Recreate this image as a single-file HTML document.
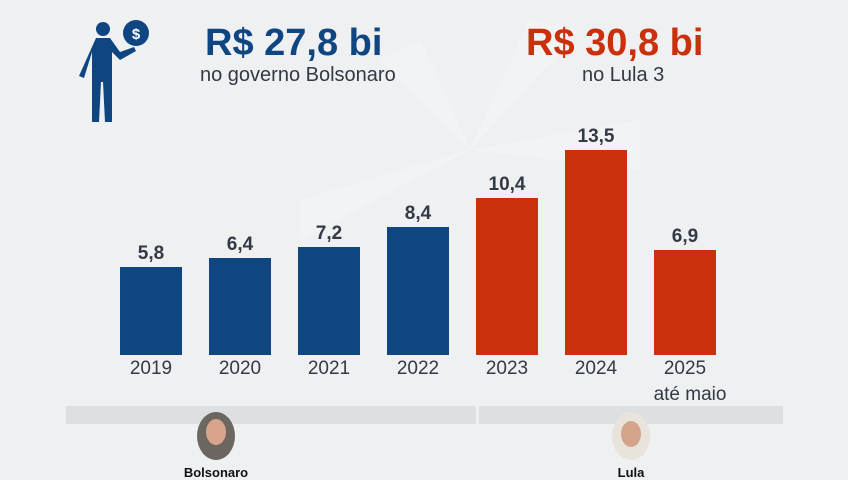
<!DOCTYPE html>
<html><head><meta charset="utf-8"><style>
body{margin:0;width:848px;height:477px;overflow:hidden;background:#eef0f2;font-family:"Liberation Sans",sans-serif;position:relative}
.a{position:absolute}
.bar{position:absolute;width:62px;bottom:122px}
.b{background:#0f4682}.r{background:#c9300b}
.v{position:absolute;width:62px;text-align:center;font-weight:bold;font-size:19px;color:#333a44}
.y{position:absolute;width:80px;text-align:center;font-size:19px;color:#333a44;top:358px}
</style></head><body>
<svg class="a" style="left:0;top:0" width="848" height="477">
<g fill="#f2f3f5">
<polygon points="470,150 380,60 420,40"/><polygon points="470,150 530,20 580,30"/><polygon points="470,150 640,120 640,170"/><polygon points="470,150 300,200 300,240"/>
</g>
<g fill="#0f4682">
<circle cx="103" cy="29" r="7"/>
<path d="M96 38 h14 l10 14 l14 -5 l2 4 l-16 9 l-8 -8 v30 l0 40 h-7 l-2 -40 h-2 l-2 40 h-7 v-70 l-8 26 l-5 -2 z"/>
<circle cx="136" cy="33" r="13"/>
</g>
<text x="136" y="39" fill="#fff" font-size="15" font-weight="bold" text-anchor="middle" font-family="Liberation Sans">$</text>
<rect x="66" y="406" width="410" height="18" fill="#dde0e3"/>
<rect x="479" y="406" width="304" height="18" fill="#dde0e3"/>
<ellipse cx="216" cy="436" rx="19" ry="24" fill="#6b6660"/>
<ellipse cx="216" cy="432" rx="10" ry="13" fill="#d8a58c"/>
<ellipse cx="631" cy="436" rx="19" ry="24" fill="#e8e4dc"/>
<ellipse cx="631" cy="434" rx="10" ry="13" fill="#d4a48a"/>
</svg>
<div class="a" style="left:205px;top:22px;font-size:38px;font-weight:bold;color:#0f4682">R$ 27,8 bi</div>
<div class="a" style="left:200px;top:64px;font-size:20px;color:#333a44">no governo Bolsonaro</div>
<div class="a" style="left:526px;top:22px;font-size:38px;font-weight:bold;color:#c9300b">R$ 30,8 bi</div>
<div class="a" style="left:582px;top:64px;font-size:20px;color:#333a44">no Lula 3</div>
<div class="bar b" style="left:120px;height:88px"></div><div class="v" style="left:120px;top:243px">5,8</div>
<div class="bar b" style="left:209px;height:97px"></div><div class="v" style="left:209px;top:234px">6,4</div>
<div class="bar b" style="left:298px;height:108px"></div><div class="v" style="left:298px;top:223px">7,2</div>
<div class="bar b" style="left:387px;height:128px"></div><div class="v" style="left:387px;top:203px">8,4</div>
<div class="bar r" style="left:476px;height:157px"></div><div class="v" style="left:476px;top:174px">10,4</div>
<div class="bar r" style="left:565px;height:205px"></div><div class="v" style="left:565px;top:126px">13,5</div>
<div class="bar r" style="left:654px;height:105px"></div><div class="v" style="left:654px;top:226px">6,9</div>
<div class="y" style="left:111px">2019</div><div class="y" style="left:200px">2020</div><div class="y" style="left:289px">2021</div><div class="y" style="left:378px">2022</div><div class="y" style="left:467px">2023</div><div class="y" style="left:556px">2024</div><div class="y" style="left:645px">2025</div>
<div class="a" style="left:640px;top:384px;width:100px;text-align:center;font-size:19px;color:#333a44">até maio</div>
<div class="a" style="left:166px;top:465px;width:100px;text-align:center;font-size:13px;font-weight:bold;color:#111">Bolsonaro</div>
<div class="a" style="left:581px;top:465px;width:100px;text-align:center;font-size:13px;font-weight:bold;color:#111">Lula</div>
</body></html>
